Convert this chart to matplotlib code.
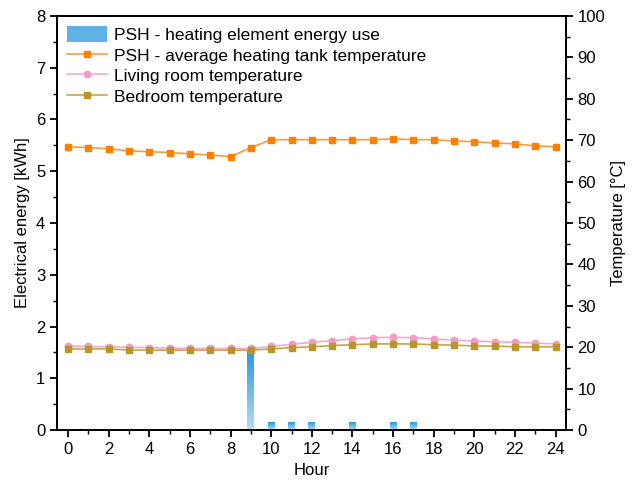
import numpy as np
import matplotlib
matplotlib.use("Agg")
import matplotlib.pyplot as plt
from matplotlib.ticker import MultipleLocator
from matplotlib.colors import LinearSegmentedColormap
from matplotlib.patches import Patch
from matplotlib.lines import Line2D

plt.rcParams["font.family"] = ["Liberation Sans", "DejaVu Sans"]
plt.rcParams["font.size"] = 12

hours = list(range(25))

# heating element energy use [kWh]
bar_hours = [9, 10, 11, 12, 14, 16, 17]
bar_energy = [1.51, 0.15, 0.15, 0.15, 0.15, 0.15, 0.15]

tank_temp = [68.4, 68.2, 67.9, 67.4, 67.2, 67.0, 66.7, 66.4, 66.0, 68.2,
             70.1, 70.1, 70.1, 70.1, 70.1, 70.1, 70.3, 70.1, 70.1, 69.8,
             69.6, 69.3, 69.1, 68.6, 68.4]
living_temp = [20.3, 20.2, 20.1, 20.0, 19.9, 19.8, 19.7, 19.7, 19.7, 19.7,
               20.2, 20.7, 21.2, 21.6, 22.0, 22.3, 22.4, 22.3, 22.0, 21.7,
               21.5, 21.3, 21.2, 21.0, 20.8]
bedroom_temp = [19.6, 19.6, 19.6, 19.3, 19.3, 19.3, 19.3, 19.3, 19.3, 19.3,
                19.6, 19.9, 20.1, 20.4, 20.6, 20.8, 20.8, 20.8, 20.6, 20.5,
                20.3, 20.3, 20.1, 20.1, 20.1]

fig = plt.figure(figsize=(6.4, 4.8), dpi=100)
ax = fig.add_axes([0.089, 0.104, 0.795, 0.863])
ax2 = ax.twinx()

# gradient-filled bars
bar_cmap = LinearSegmentedColormap.from_list("bluegrad", ["#b7dbf7", "#2a98d8"])
grad = np.linspace(0, 1, 256).reshape(-1, 1)
width = 0.34
for h, e in zip(bar_hours, bar_energy):
    ax.imshow(grad, cmap=bar_cmap, aspect="auto", origin="lower",
              extent=[h - width / 2, h + width / 2, 0, e], zorder=2)

ax.set_xlim(-0.55, 24.5)
ax.set_ylim(0, 8)
ax2.set_ylim(0, 100)

ms = 4.6
ax2.plot(hours, tank_temp, color="#ff9a3c", lw=1.2, marker="s", ms=ms,
         mfc="#ff7f00", mec="#ff7f00", zorder=3)
ax2.plot(hours, living_temp, color="#f7a8cf", lw=1.2, marker="o", ms=ms,
         mfc="#f39ac5", mec="#f39ac5", zorder=3)
ax2.plot(hours, bedroom_temp, color="#c9a54a", lw=1.2, marker="s", ms=ms,
         mfc="#b9952a", mec="#b9952a", zorder=4)

ax.xaxis.set_major_locator(MultipleLocator(2))
ax.xaxis.set_minor_locator(MultipleLocator(1))
ax.yaxis.set_major_locator(MultipleLocator(1))
ax.yaxis.set_minor_locator(MultipleLocator(0.5))
ax2.yaxis.set_major_locator(MultipleLocator(10))
ax2.yaxis.set_minor_locator(MultipleLocator(5))

for a in (ax, ax2):
    for s in a.spines.values():
        s.set_linewidth(1.3)
    a.tick_params(which="major", direction="out", length=5, width=1.3, labelsize=12)
    a.tick_params(which="minor", direction="out", length=3, width=1.0)

ax.set_xlabel("Hour", fontsize=12)
ax.xaxis.set_label_coords(0.5, -0.08)
ax.set_ylabel("Electrical energy [kWh]", fontsize=12)
ax2.set_ylabel("Temperature [°C]", fontsize=12)

handles = [
    Patch(facecolor="#5fb1e6", edgecolor="none"),
    Line2D([], [], color="#ff9a3c", lw=1.2, marker="s", ms=4.6, mfc="#ff7f00", mec="#ff7f00"),
    Line2D([], [], color="#f7a8cf", lw=1.2, marker="o", ms=4.6, mfc="#f39ac5", mec="#f39ac5"),
    Line2D([], [], color="#c9a54a", lw=1.2, marker="s", ms=4.6, mfc="#b9952a", mec="#b9952a"),
]
labels = ["PSH - heating element energy use",
          "PSH - average heating tank temperature",
          "Living room temperature",
          "Bedroom temperature"]
ax2.legend(handles, labels, loc="upper left", frameon=False, fontsize=12.5,
           handlelength=2.3, handleheight=1.0, handletextpad=0.4,
           labelspacing=0.22, borderaxespad=0.2, bbox_to_anchor=(0.0, 1.0))

fig.savefig("out.png", dpi=100)
